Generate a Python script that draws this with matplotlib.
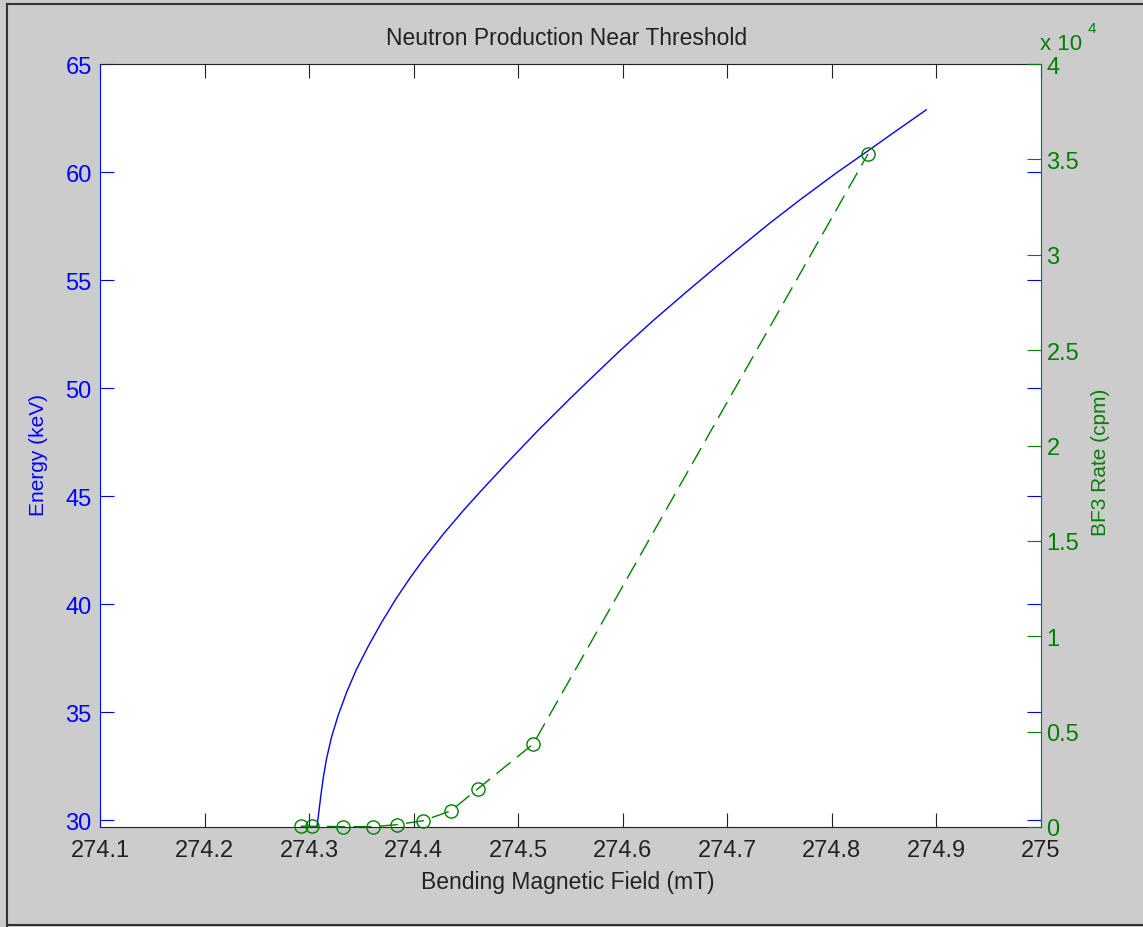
import matplotlib
matplotlib.use("Agg")
import matplotlib.pyplot as plt
from matplotlib.lines import Line2D
from matplotlib.ticker import FuncFormatter

plt.rcParams['font.family'] = ['Liberation Sans', 'DejaVu Sans']

# beam energy vs bending field (keV)
field_mT = [274.3077, 274.3110, 274.3135, 274.3167, 274.3215, 274.3278, 274.3359,
            274.3454, 274.3565, 274.3693, 274.3837, 274.3964, 274.4091, 274.4282,
            274.4473, 274.4633, 274.4888, 274.5190, 274.5493, 274.5653, 274.5971,
            274.6290, 274.6609, 274.6896, 274.7405, 274.7692, 274.8043, 274.8345,
            274.8584, 274.8903]
energy_keV = [29.74, 31.05, 31.95, 32.85, 33.85, 34.85, 35.92,
              36.99, 38.04, 39.15, 40.29, 41.20, 42.05, 43.23,
              44.32, 45.18, 46.51, 48.04, 49.50, 50.25, 51.72,
              53.12, 54.45, 55.62, 57.63, 58.70, 59.96, 60.98,
              61.80, 62.88]

# BF3 counter rate at each field setting
bf3_field = [274.2919, 274.3024, 274.3326, 274.3607, 274.3836, 274.4091,
             274.4356, 274.4611, 274.5143, 274.8345]
bf3_rate = [40, 40, 20, 20, 120, 330, 850, 1990, 4350, 35280]

energy_ticks = [30, 35, 40, 45, 50, 55, 60, 65]
rate_ticks = [0, 5000, 10000, 15000, 20000, 25000, 30000, 35000, 40000]
field_ticks = [274.1, 274.2, 274.3, 274.4, 274.5, 274.6, 274.7, 274.8, 274.9, 275]

blue = '#0000ff'
green = '#008000'
W, H = 1143, 928

fig = plt.figure(figsize=(W / 100, H / 100), dpi=100, facecolor='#cccccc')
ax = fig.add_axes([100 / W, 1 - 828 / H, 941 / W, 763 / H])
ax2 = ax.twinx()

ax.plot(field_mT, energy_keV, color=blue, lw=1.0)
ax2.plot(bf3_field, bf3_rate, color=green, lw=1.0, linestyle='--', dashes=(13, 6),
         marker='o', markersize=9.5, markerfacecolor='none', markeredgecolor=green,
         markeredgewidth=1.0, clip_on=False)

ax.set_xlim(274.1, 275)
ax.set_ylim(29.68, 65)
ax2.set_ylim(0, 40000)
ax.set_xticks(field_ticks)
ax.set_xticklabels([f'{v:g}' for v in field_ticks])
ax.set_yticks(energy_ticks)
ax2.set_yticks(rate_ticks)
ax2.yaxis.set_major_formatter(FuncFormatter(lambda v, p: f'{v / 1e4:g}'))

ax.tick_params(axis='x', direction='in', length=10, top=True, colors='#222222',
               labelsize=17, pad=9)
ax.tick_params(axis='y', direction='in', length=10, right=True, colors=blue,
               labelsize=17, pad=6)
ax2.tick_params(axis='y', direction='in', length=10, colors=green,
                labelsize=17, pad=4)

ax.spines['left'].set_color(blue)
ax.spines['right'].set_visible(False)
ax.spines['top'].set_color('#222222')
ax.spines['bottom'].set_color('#222222')
ax2.spines['left'].set_visible(False)
ax2.spines['top'].set_visible(False)
ax2.spines['bottom'].set_visible(False)
ax2.spines['right'].set_color(green)

fig.text(567 / W, 1 - 45 / H, 'Neutron Production Near Threshold', ha='center',
         va='baseline', fontsize=16.5, color='#222222')
fig.text(568 / W, 1 - 883 / H, 'Bending Magnetic Field (mT)', ha='center',
         va='center', fontsize=16.5, color='#222222')
fig.text(38 / W, 1 - 455 / H, 'Energy (keV)', ha='center', va='center',
         rotation=90, fontsize=15, color=blue)
fig.text(1100 / W, 1 - 462 / H, 'BF3 Rate (cpm)', ha='center', va='center',
         rotation=90, fontsize=15, color=green)
fig.text(1040 / W, 1 - 50 / H, 'x 10', ha='left', va='baseline', fontsize=16,
         color=green)
fig.text(1088 / W, 1 - 33 / H, '4', ha='left', va='baseline', fontsize=11,
         color=green)

# window frame
for xs, ys in [([7 / W, 7 / W], [0, 1 - 5 / H]),
               ([7 / W, 1], [1 - 5 / H, 1 - 5 / H]),
               ([7 / W, 1], [1 - 926 / H, 1 - 926 / H])]:
    fig.add_artist(Line2D(xs, ys, color='#333333', lw=1.5))

fig.savefig('out.png', dpi=100, facecolor=fig.get_facecolor())
